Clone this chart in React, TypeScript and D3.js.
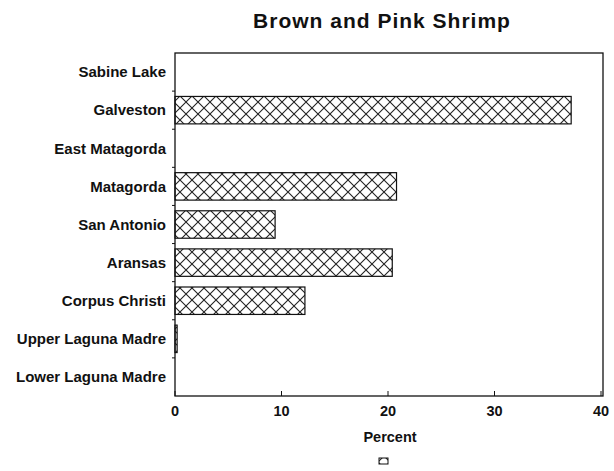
import React from "react";
import * as d3 from "d3";

const categories = [
  "Sabine Lake",
  "Galveston",
  "East Matagorda",
  "Matagorda",
  "San Antonio",
  "Aransas",
  "Corpus Christi",
  "Upper Laguna Madre",
  "Lower Laguna Madre",
];
const values = [0, 37.2, 0, 20.8, 9.4, 20.4, 12.2, 0.2, 0];
const xTicks = [0, 10, 20, 30, 40];
const title = "Brown and Pink Shrimp";
const xLabel = "Percent";

const W = 614;
const H = 471;
const m = { left: 175, right: 603, top: 53, bottom: 396 };

export default function App() {
  const x = d3.scaleLinear().domain([0, 40]).range([m.left, m.right - 2]);
  const y = d3
    .scaleBand()
    .domain(categories)
    .range([m.top, m.bottom])
    .paddingInner(0.28)
    .paddingOuter(0.14);
  const step = y.step();
  const font = "Liberation Sans, Arial, sans-serif";
  return (
    <svg
      width={W}
      height={H}
      style={{ position: "absolute", left: 0, top: 0, background: "#fff" }}
    >
      <defs>
        <pattern
          id="xhatch"
          patternUnits="userSpaceOnUse"
          width={12}
          height={12}
        >
          <path d="M0,0 L12,12 M12,0 L0,12" stroke="#222" strokeWidth={1.1} />
        </pattern>
      </defs>
      <text
        x={382}
        y={28}
        textAnchor="middle"
        fontFamily={font}
        fontWeight="bold"
        fontSize={21}
        letterSpacing={1}
        fill="#111"
      >
        {title}
      </text>
      {categories.map((c, i) => (
        <g key={c}>
          {values[i] > 0 && (
            <rect
              x={x(0)}
              y={y(c)}
              width={x(values[i]) - x(0)}
              height={y.bandwidth()}
              fill="url(#xhatch)"
              stroke="#111"
              strokeWidth={1.2}
            />
          )}
          <text
            x={m.left - 9}
            y={(y(c) ?? 0) + y.bandwidth() / 2}
            dy="0.35em"
            textAnchor="end"
            fontFamily={font}
            fontWeight="bold"
            fontSize={15}
            fill="#111"
          >
            {c}
          </text>
          {i > 0 && (
            <line
              x1={m.left - 3}
              x2={m.left}
              y1={m.top + step * i}
              y2={m.top + step * i}
              stroke="#111"
            />
          )}
        </g>
      ))}
      <rect
        x={m.left}
        y={m.top}
        width={m.right - m.left}
        height={m.bottom - m.top}
        fill="none"
        stroke="#111"
        strokeWidth={1.3}
      />
      {xTicks.map((t) => (
        <g key={t}>
          <line
            x1={x(t)}
            x2={x(t)}
            y1={m.bottom}
            y2={m.bottom - 5}
            stroke="#111"
          />
          <text
            x={x(t)}
            y={m.bottom + 20}
            textAnchor="middle"
            fontFamily={font}
            fontWeight="bold"
            fontSize={14.5}
            fill="#111"
          >
            {t}
          </text>
        </g>
      ))}
      <text
        x={390}
        y={442}
        textAnchor="middle"
        fontFamily={font}
        fontWeight="bold"
        fontSize={14.5}
        fill="#111"
      >
        {xLabel}
      </text>
      <rect
        x={379}
        y={458}
        width={9}
        height={6}
        fill="url(#xhatch)"
        stroke="#111"
        strokeWidth={1}
      />
    </svg>
  );
}
